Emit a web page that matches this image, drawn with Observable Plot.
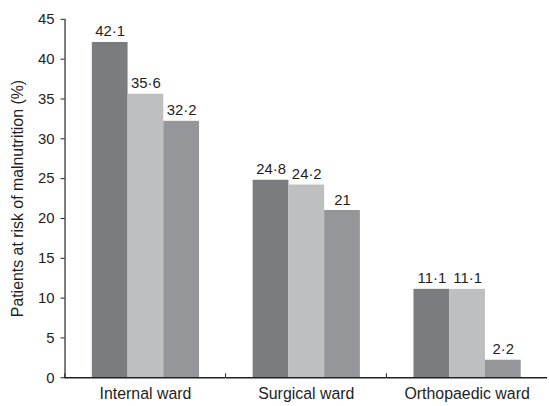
<!DOCTYPE html>
<html><head><meta charset="utf-8">
<script src="https://cdn.jsdelivr.net/npm/d3@7"></script>
<script src="https://cdn.jsdelivr.net/npm/@observablehq/plot@0.6"></script>
<style>html,body{margin:0;padding:0;overflow:hidden;background:#fff} svg{display:block}</style>
</head><body><div id="chart"></div>
<script>
const wards = ["Internal ward", "Surgical ward", "Orthopaedic ward"];
const series = ["s1", "s2", "s3"]; // three unlabelled bar series
const series1 = [42.1, 24.8, 11.1];
const series2 = [35.6, 24.2, 11.1];
const series3 = [32.2, 21, 2.2];
const colors = ["#7b7c80", "#bebfc1", "#959699"];
const yTicks = [0, 5, 10, 15, 20, 25, 30, 35, 40, 45];
const yLabel = "Patients at risk of malnutrition (%)";

const data = wards.flatMap((w, i) =>
  [series1, series2, series3].map((s, j) => ({ward: w, series: series[j], value: s[i]})));
const fmt = v => String(v).replace(".", "\u00b7");

const chart = Plot.plot({
  width: 553,
  height: 406,
  marginLeft: 64.5,
  marginRight: 1,
  marginTop: 19,
  marginBottom: 26,
  style: {fontFamily: "'Liberation Sans', Arial, sans-serif", fontSize: "15px", color: "#1e1e1e", background: "#fff"},
  fx: {domain: wards, paddingInner: 0, paddingOuter: 0, label: null},
  x: {domain: series, paddingInner: 0, paddingOuter: 0.75, axis: null},
  y: {domain: [0, 45], axis: null},
  color: {domain: series, range: colors},
  marks: [
    Plot.barY(data, {fx: "ward", x: "series", y: "value", fill: "series"}),
    Plot.text(data, {fx: "ward", x: "series", y: "value", text: d => fmt(d.value), lineAnchor: "bottom", dy: -6, fontSize: 15, fill: "#1e1e1e"}),
    Plot.ruleY([0], {stroke: "#222", strokeWidth: 1.3}),
    Plot.frame({anchor: "left", facetAnchor: "left", stroke: "#222", strokeWidth: 1.2}),
    Plot.axisY({ticks: yTicks, tickSize: 4, tickPadding: 6.5, stroke: "#222", fontSize: 15, label: null}),
    Plot.axisY({ticks: [], label: yLabel, labelAnchor: "center", labelArrow: "none", labelOffset: 54, fontSize: 16}),
    Plot.axisFx({anchor: "bottom", tickSize: 0, tickPadding: 10, fontSize: 16, label: null}),
    Plot.axisFx({anchor: "bottom", tickSize: -4, tickFormat: () => "", dx: -81.25, label: null, stroke: "#222"})
  ]
});
document.getElementById("chart").append(chart);
</script>
</body></html>
